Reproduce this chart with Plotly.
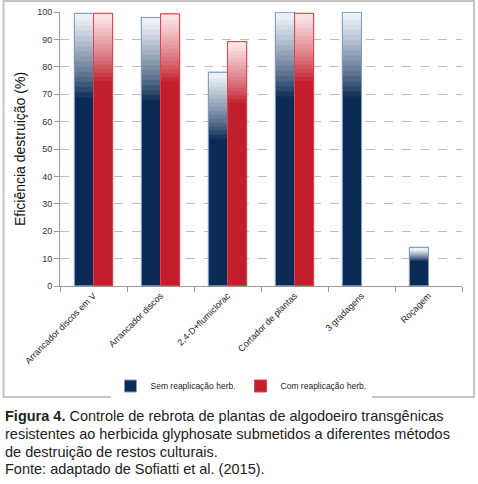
import plotly.graph_objects as go

# dados (eficiência de destruição, %)
categorias = ["Arrancador discos em V", "Arrancador discos", "2,4-D+flumiclorac",
              "Cortador de plantas", "3 gradagens", "Roçagem"]
sem_reaplicacao = [99.5, 98.0, 78.0, 99.9, 99.9, 14.1]
com_reaplicacao = [99.5, 99.3, 89.2, 99.5, None, None]
y_ticks = [0, 10, 20, 30, 40, 50, 60, 70, 80, 90, 100]

W, H = 478, 484
L, R, T, B = 60, 16, 12, 198
PW, PH = W - L - R, H - T - B


def px_x(x):
    return (x - L) / PW


def px_y(y):
    return (H - B - y) / PH


def mix(c1, c2, t):
    a = [int(c1[i:i + 2], 16) for i in (1, 3, 5)]
    b = [int(c2[i:i + 2], 16) for i in (1, 3, 5)]
    return "rgb(%d,%d,%d)" % tuple(round(a[i] + (b[i] - a[i]) * t) for i in range(3))


def add_serie(fig, vals, nome, escuro, claro, borda, frac, offset, n=16):
    largura = 0.285
    # barra sólida
    fig.add_trace(go.Bar(x=categorias, y=vals, name=nome, width=largura, offset=offset,
                         marker=dict(color=escuro, line=dict(color=borda, width=1)),
                         showlegend=True))
    # faixas do degradê no topo (cada faixa cobre um pouco da anterior)
    for k in range(n):
        bases = [None if v is None else v * (1 - frac) + v * frac * k / n - 0.8 for v in vals]
        alturas = [None if v is None else v * frac / n + 0.8 for v in vals]
        t = ((k + 0.5) / n) ** 0.8
        fig.add_trace(go.Bar(x=categorias, y=alturas, base=bases, width=largura,
                             offset=offset, marker=dict(color=mix(escuro, claro, t), line=dict(width=0)),
                             showlegend=False, hoverinfo="skip"))
    # contorno
    fig.add_trace(go.Bar(x=categorias, y=vals, width=largura, offset=offset,
                         marker=dict(color="rgba(0,0,0,0)", line=dict(color=borda, width=1)),
                         showlegend=False, hoverinfo="skip"))


fig = go.Figure()
add_serie(fig, sem_reaplicacao, "Sem reaplicação herb.", "#0b2a55", "#f2f5fa", "#7f9cc0", 0.30, -0.285)
add_serie(fig, com_reaplicacao, "Com reaplicação herb.", "#c11f2b", "#fbe6e8", "#e2404c", 0.24, 0.0)

fig.update_layout(
    width=W, height=H,
    margin=dict(l=L, r=R, t=T, b=B, autoexpand=False),
    barmode="overlay",
    paper_bgcolor="white", plot_bgcolor="white",
    font=dict(family="Liberation Sans", color="#333333"),
    legend=dict(orientation="h", x=px_x(241), y=px_y(386), xanchor="center", yanchor="middle",
                font=dict(size=8.5, color="#222222"), itemwidth=30, traceorder="normal"),
    shapes=[dict(type="rect", xref="paper", yref="paper",
                 x0=px_x(3.5), x1=px_x(474), y0=px_y(397), y1=px_y(1),
                 line=dict(color="#c4c4c4", width=2), layer="above")],
    annotations=[
        dict(xref="paper", yref="paper", x=px_x(3), y=px_y(416), xanchor="left", yanchor="middle",
             showarrow=False, align="left", font=dict(size=14.5, color="#222222"),
             text="<b>Figura 4.</b> Controle de rebrota de plantas de algodoeiro transgênicas"),
        dict(xref="paper", yref="paper", x=px_x(3), y=px_y(434), xanchor="left", yanchor="middle",
             showarrow=False, align="left", font=dict(size=14.5, color="#222222"),
             text="resistentes ao herbicida glyphosate submetidos a diferentes métodos"),
        dict(xref="paper", yref="paper", x=px_x(3), y=px_y(452), xanchor="left", yanchor="middle",
             showarrow=False, align="left", font=dict(size=14.5, color="#222222"),
             text="de destruição de restos culturais."),
        dict(xref="paper", yref="paper", x=px_x(3), y=px_y(469), xanchor="left", yanchor="middle",
             showarrow=False, align="left", font=dict(size=14.5, color="#222222"),
             text="Fonte: adaptado de Sofiatti et al. (2015)."),
    ],
)

fig.update_yaxes(range=[0, 100], tickvals=y_ticks, showgrid=True, gridcolor="#bdbdbd", griddash="dash",
                 gridwidth=1, showline=True, linecolor="#9a9a9a", ticks="outside", ticklen=5,
                 tickcolor="#9a9a9a", tickfont=dict(size=9, color="#333333"), zeroline=False,
                 title=dict(text="Eficiência destruição (%)", font=dict(size=14, color="#111111"), standoff=8))
fig.update_xaxes(tickangle=-45, tickson="boundaries", ticks="outside", ticklen=5, tickcolor="#9a9a9a",
                 showline=True, linecolor="#9a9a9a", tickfont=dict(size=9, color="#222222"),
                 showgrid=False, range=[-0.5, 5.5])

# a página tem margem padrão de 8px; zera para alinhar com a janela
fig.write_html("out.html", config={"displayModeBar": False},
               post_script="document.body.style.margin='0';")
